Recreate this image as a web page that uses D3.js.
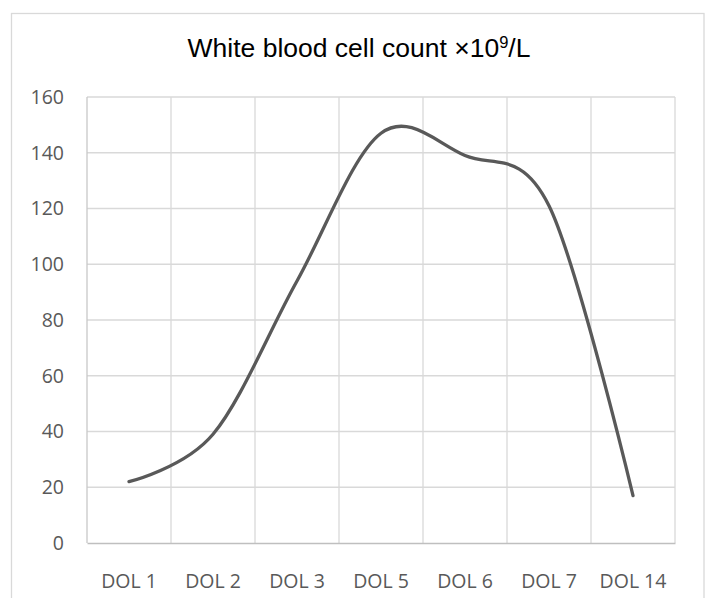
<!DOCTYPE html>
<html>
<head>
<meta charset="utf-8">
<script src="https://cdn.jsdelivr.net/npm/d3@7"></script>
<style>
  body { margin: 0; background: #fff; }
</style>
</head>
<body>
<script>
const w = 708;
const h = 598;

// data
const days = ["DOL 1", "DOL 2", "DOL 3", "DOL 5", "DOL 6", "DOL 7", "DOL 14"];
const wbc = [22, 39, 94, 147, 139, 121, 17];
const yTicks = [0, 20, 40, 60, 80, 100, 120, 140, 160];

const plot = {left: 87, right: 675, top: 97, bottom: 543};

const svg = d3.select("body")
              .append("svg")
              .attr("width", w)
              .attr("height", h);

// chart border (runs off the bottom of the picture)
svg.append("rect")
   .attr("x", 11.5)
   .attr("y", 13.5)
   .attr("width", 692.5)
   .attr("height", 620)
   .attr("fill", "#fff")
   .attr("stroke", "#d9d9d9")
   .attr("stroke-width", 1.3);

svg.append("text")
   .attr("x", 359)
   .attr("y", 57)
   .attr("text-anchor", "middle")
   .style("font-family", "'Liberation Sans', Arial, sans-serif")
   .style("font-size", "26.5px")
   .style("fill", "#000")
   .text("White blood cell count \u00d710")
   .append("tspan")
   .attr("dy", -9)
   .style("font-size", "16.5px")
   .text("9")
   .append("tspan")
   .attr("dy", 9)
   .style("font-size", "26.5px")
   .text("/L");

const x = d3.scaleBand()
            .domain(days)
            .range([plot.left, plot.right])
            .padding(0);

const y = d3.scaleLinear()
            .domain([0, 160])
            .range([plot.bottom, plot.top]);

// horizontal gridlines
svg.append("g")
   .selectAll("line")
   .data(yTicks.filter(d => d > 0))
   .enter()
   .append("line")
   .attr("x1", plot.left)
   .attr("x2", plot.right)
   .attr("y1", d => y(d))
   .attr("y2", d => y(d))
   .attr("stroke", "#d9d9d9")
   .attr("stroke-width", 1.3);

// vertical gridlines on category edges
const edges = days.map(d => x(d)).concat([x.range()[1]]);
svg.append("g")
   .selectAll("line")
   .data(edges)
   .enter()
   .append("line")
   .attr("x1", d => d)
   .attr("x2", d => d)
   .attr("y1", plot.top)
   .attr("y2", plot.bottom)
   .attr("stroke", (d, i) => i == 0 ? "#c8c8c8" : "#d9d9d9")
   .attr("stroke-width", 1.3);

// x axis
const xAxis = svg.append("g")
   .attr("transform", "translate(0," + plot.bottom + ")")
   .call(d3.axisBottom(x).tickSize(0).tickPadding(31));
xAxis.select(".domain").attr("stroke", "#bfbfbf").attr("stroke-width", 1.3);
xAxis.selectAll("text")
   .style("font-family", "'Open Sans', sans-serif")
   .style("font-size", "19.5px")
   .style("fill", "#595959");

// y axis labels
const yAxis = svg.append("g")
   .attr("transform", "translate(" + plot.left + ",0)")
   .call(d3.axisLeft(y).tickValues(yTicks).tickSize(0).tickPadding(23));
yAxis.select(".domain").remove();
yAxis.selectAll("text")
   .style("font-family", "'Open Sans', sans-serif")
   .style("font-size", "19.5px")
   .style("fill", "#595959");

const line = d3.line()
   .x((d, i) => x(days[i]) + x.bandwidth() / 2)
   .y(d => y(d))
   .curve(d3.curveCardinal.tension(0));

svg.append("path")
   .datum(wbc)
   .attr("d", line)
   .attr("fill", "none")
   .attr("stroke", "#595959")
   .attr("stroke-width", 3.3)
   .attr("stroke-linecap", "round")
   .attr("stroke-linejoin", "round");
</script>
</body>
</html>
